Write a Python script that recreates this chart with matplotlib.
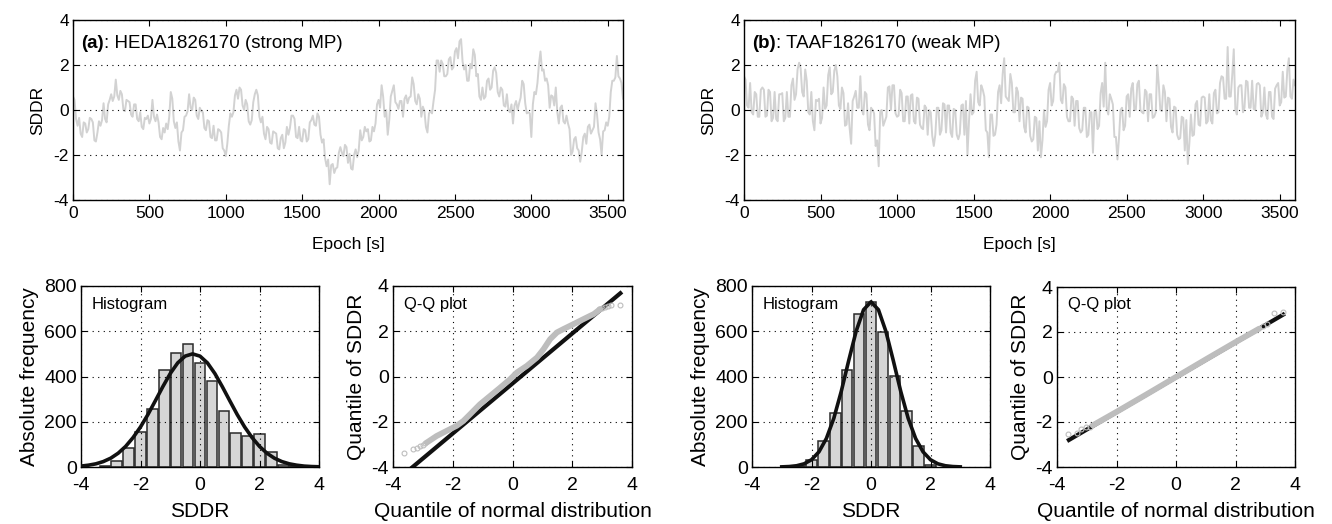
import numpy as np
import matplotlib
matplotlib.use("Agg")
import matplotlib.pyplot as plt

plt.rcParams['font.family'] = ['Liberation Sans', 'DejaVu Sans']
plt.rcParams['axes.unicode_minus'] = False

# ---- data ----
epoch = np.arange(0, 3601, 10)

sddr_a = [
    0.6, 0.45, -0.4, -0.7, -0.35, -1.05, -1.2, -0.55, -0.6, -1.0,
    -0.85, -0.35, -0.4, -0.55, -1.35, -1.4, -1.0, -0.5, -0.7, -0.45,
    0.3, -0.4, -0.55, 0.25, 0.45, 0.7, 0.4, 0.6, 1.35, 0.65,
    0.45, 0.85, 0.7, 0.0, -0.05, 0.45, 0.4, 0.35, -0.2, -0.3,
    0.25, 0.25, -0.4, -0.5, -0.1, -0.75, -0.85, -0.35, -0.4, -0.25,
    -0.6, -0.4, 0.45, -0.3, -0.5, -0.2, -0.55, -1.2, -1.3, -0.8,
    -1.0, -0.6, -0.85, -0.3, 0.8, 0.5, -0.5, -0.8, -0.55, -1.4,
    -1.8, -1.0, -0.9, -0.3, -0.25, -0.05, 0.7, 0.1, 0.0, 0.55,
    0.45, -0.25, -0.4, 0.1, -0.05, -0.1, -0.8, -0.9, -0.45, -0.5,
    -1.2, -1.25, -0.7, -1.35, -1.35, -0.85, -0.9, -1.0, -1.7, -1.8,
    -2.05, -1.5, -0.7, -0.15, -0.3, -0.1, 0.65, 0.9, 0.5, 1.0,
    0.9, 0.2, 0.0, 0.45, 0.25, -0.5, -0.65, -0.45, 0.35, 0.7,
    0.9, 0.65, -0.3, -0.55, -0.3, -1.05, -1.3, -0.75, -0.85, -1.45,
    -1.5, -0.95, -1.0, -1.05, -1.7, -1.75, -1.25, -1.1, -1.7, -1.45,
    -0.75, -1.1, -0.8, -0.25, -0.25, -0.4, -1.2, -1.25, -0.75, -1.35,
    -1.4, -0.85, -0.9, -1.4, -1.3, -0.55, -0.45, -0.25, -0.65, -0.7,
    -0.15, -0.3, -1.1, -1.45, -1.3, -2.15, -2.5, -2.2, -3.3, -2.45,
    -2.4, -2.8, -2.6, -2.55, -1.9, -1.65, -1.9, -2.05, -1.55, -1.65,
    -2.35, -1.95, -2.6, -2.65, -2.0, -1.75, -2.1, -1.8, -0.9, -1.35,
    -1.2, -0.75, -0.95, -0.85, -1.4, -1.35, -0.75, -0.95, -0.6, 0.25,
    0.45, 0.1, 1.1, 0.6, -0.3, 0.0, -1.1, -0.45, 0.6, 0.85,
    1.1, 0.35, 0.25, 0.05, 0.4, 0.4, -0.3, 0.5, 0.65, 0.3,
    0.55, 0.6, 1.45, 1.15, 0.4, 0.25, 0.7, 0.5, -0.3, 0.15,
    -0.05, -0.75, -1.0, -0.15, -0.05, -0.15, 0.4, 0.9, 2.2, 2.2,
    1.7, 2.2, 2.05, 1.5, 1.5, 1.6, 2.25, 2.35, 1.8, 1.9,
    2.6, 2.75, 2.3, 3.05, 3.15, 2.15, 1.8, 2.0, 1.3, 1.3,
    2.05, 1.85, 2.7, 2.45, 1.5, 1.6, 0.6, 0.45, 1.0, 0.5,
    0.6, 1.3, 1.4, 0.9, 1.0, 1.75, 1.9, 1.65, 0.8, 0.6,
    1.0, 0.9, 0.2, 0.15, 0.7, 0.0, -0.1, 0.25, -0.6, 0.2,
    0.4, 0.0, 0.3, 0.55, 1.3, 1.15, 0.3, -0.15, -0.1, -0.15,
    -1.2, 0.25, 0.8, 0.7, 1.2, 2.05, 2.6, 1.75, 1.8, 1.3,
    1.4, 1.1, 0.1, 0.65, 0.6, 0.2, 1.0, -0.1, -0.6, 0.1,
    0.2, -0.5, -0.6, -0.25, -0.6, -0.85, -2.0, -1.85, -1.3, -1.2,
    -1.7, -1.8, -2.3, -1.85, -1.2, -1.05, -1.5, -0.75, -0.65, -1.05,
    -0.9, -0.75, 0.3, -0.2, -1.0, -1.3, -2.0, -0.95, -0.9, -0.55,
    -0.7, -0.3, 0.8, 1.3, 1.3, 1.45, 2.4, 1.5, 1.4, 1.2,
    0.5]

sddr_b = [
    1.5, 1.35, 0.2, 0.1, 1.2, -0.1, -0.2, 0.8, 0.7, -0.3,
    -0.3, 0.9, 1.0, 0.9, -0.3, -0.25, 0.9, 0.8, -0.5, -0.35,
    0.8, -0.4, -0.5, 0.7, 0.7, 0.75, -0.5, -0.35, 0.8, -0.3,
    -0.3, 1.1, 1.4, 0.45, 0.7, 1.8, 2.1, 1.85, 0.8, 0.6,
    1.8, 1.3, -0.1, -0.2, 0.8, -0.5, -0.9, 0.45, 0.4, 0.5,
    -0.6, -0.35, 1.0, 0.05, 0.2, 1.55, 1.9, 0.7, 0.8, 1.75,
    2.0, 1.5, 0.2, 0.05, 1.0, 0.75, -0.7, -0.65, 0.3, -0.8,
    -1.5, 0.4, 0.6, 0.85, 0.1, 0.1, 1.5, 0.0, -0.2, 0.8,
    0.7, -0.65, -0.9, 0.1, 0.0, -0.15, -1.6, -1.35, -2.5, -0.05,
    0.0, -0.7, -0.5, -0.3, 1.0, 1.05, 0.0, 1.1, 1.1, -0.15,
    -0.3, -0.25, 0.9, 0.75, -0.5, -0.5, 0.6, 0.6, -0.6, 0.65,
    0.7, -0.5, -0.6, 0.55, 0.5, -0.65, -0.8, -0.85, 0.2, 0.1,
    -1.1, 0.0, -0.1, -1.15, -1.6, -1.1, 0.1, 0.1, -1.1, -0.9,
    0.3, 0.25, -1.0, 0.2, 0.2, -1.0, -1.2, 0.05, 0.0, -1.1,
    -1.3, -1.05, 0.2, 0.25, -1.1, 0.4, -2.0, -0.5, 0.7, -0.2,
    -0.1, 1.3, 1.7, 0.35, 0.2, 1.1, 0.9, 0.6, -0.9, -1.0,
    -2.1, -0.2, -0.2, -1.15, -1.1, -0.65, 0.8, 1.1, 0.3, 1.6,
    2.3, 0.6, 0.5, 0.4, 1.6, 1.2, -0.1, -0.1, 1.0, 0.8,
    -0.5, 0.55, 0.5, -0.75, -1.0, 0.15, 0.1, -1.15, -1.4, -1.3,
    -0.3, -0.35, -1.8, -0.5, -2.1, -1.35, 0.0, -0.75, -0.5, 0.9,
    1.2, 0.2, 0.4, 1.55, 1.7, 1.7, 2.1, 0.45, 0.3, 1.15,
    1.0, -0.3, -0.5, -0.5, 0.6, 0.5, -0.7, 0.4, 0.4, -0.8,
    -1.0, -0.9, 0.1, 0.1, -1.2, -1.1, -0.1, -0.1, -1.9, -0.05,
    0.0, -0.85, -0.7, 0.75, 1.2, 0.15, 2.1, 0.1, -0.2, 0.7,
    0.5, 0.25, -1.2, -1.2, -2.2, -1.25, 0.0, 0.1, -0.9, -0.7,
    0.6, 0.7, -0.3, 0.95, 1.2, 0.0, 0.0, 1.15, 1.3, 0.0,
    -0.1, -0.15, 0.9, 0.8, -0.5, 0.7, 0.7, -0.35, -0.3, -0.1,
    2.0, 1.15, 0.0, -0.05, 1.1, 0.8, -0.5, 0.55, 0.5, -0.75,
    -1.0, 0.15, 0.1, -1.1, -1.3, -1.25, -0.3, -0.35, -1.8, -0.45,
    -2.4, -1.45, -0.2, -1.15, -1.1, 0.25, 0.4, -0.65, -0.7, 0.55,
    0.6, 0.55, -0.6, -0.5, 0.7, -0.45, -0.6, 0.75, 0.9, -0.15,
    -0.1, 1.2, 1.5, 1.45, 0.5, 0.5, 2.8, 0.6, 0.6, 1.55,
    2.7, 0.05, -0.2, 1.0, 1.1, 1.1, -0.1, 0.1, 1.3, 1.25,
    0.1, 0.1, 1.3, 0.05, 0.0, 1.15, 1.2, 1.1, -0.3, -0.1,
    1.0, -0.2, -0.4, 0.8, 0.8, -0.3, -0.4, 0.95, 1.1, 1.2,
    0.2, 0.35, 1.7, 0.55, 0.6, 1.8, 2.3, 0.6, 0.5, 1.35,
    1.1]

# histograms (bin centres / counts)
hist_a_x = [-3.2, -2.8, -2.4, -2.0, -1.6, -1.2, -0.8, -0.4, 0.0, 0.4,
            0.8, 1.2, 1.6, 2.0, 2.4, 2.8, 3.2]
hist_a_n = [5, 26, 84, 155, 257, 428, 506, 543, 460, 381,
            249, 150, 136, 148, 68, 8, 3]
hist_b_x = [-2.4, -2.0, -1.6, -1.2, -0.8, -0.4, 0.0, 0.4, 0.8, 1.2, 1.6, 2.0]
hist_b_n = [3, 32, 116, 238, 429, 678, 731, 596, 403, 246, 91, 8]

# fitted normal curves
fit_a_x = [-4.0, -3.75, -3.5, -3.25, -3.0, -2.75, -2.5, -2.25, -2.0, -1.75,
           -1.5, -1.25, -1.0, -0.75, -0.5, -0.25, 0.0, 0.25, 0.5, 0.75,
           1.0, 1.25, 1.5, 1.75, 2.0, 2.25, 2.5, 2.75, 3.0, 3.25, 3.5, 3.75, 4.0]
fit_a_y = [4, 8, 14, 24, 39, 61, 91, 130, 177, 232,
           293, 355, 413, 460, 490, 500, 490, 460, 413, 355,
           293, 232, 177, 130, 91, 61, 39, 24, 14, 8, 4, 2, 1]
fit_b_x = [-3.0, -2.75, -2.5, -2.25, -2.0, -1.75, -1.5, -1.25, -1.0, -0.75,
           -0.5, -0.25, 0.0, 0.25, 0.5, 0.75, 1.0, 1.25, 1.5, 1.75,
           2.0, 2.25, 2.5, 2.75, 3.0]
fit_b_y = [0.6, 2, 5.5, 14, 32, 67, 126, 215, 334, 470,
           600, 695, 730, 695, 600, 470, 334, 215, 126, 67,
           32, 14, 5.5, 2, 0.6]

# Q-Q plots
qq_a_x = [-2.87, -2.54, -2.2, -1.87, -1.64, -1.42, -1.09, -0.75, -0.41, -0.08,
          0.15, 0.48, 0.82, 1.04, 1.26, 1.49, 1.71, 2.05, 2.38, 2.72, 2.94]
qq_a_y = [-2.92, -2.63, -2.4, -2.18, -1.96, -1.67, -1.23, -0.86, -0.49, -0.12,
          0.18, 0.47, 0.84, 1.21, 1.65, 1.95, 2.1, 2.32, 2.54, 2.76, 2.98]
qq_a_tx = [-3.64, -3.34, -3.2, -3.1, -3.0, -2.92, 2.9, 3.0, 3.1, 3.2, 3.3, 3.61]
qq_a_ty = [-3.39, -3.22, -3.14, -3.08, -3.02, -2.96, 2.97, 3.03, 3.08, 3.12, 3.15, 3.17]
qq_a_lx = [-3.64, 3.61]
qq_a_ly = [-4.33, 3.68]

qq_b_x = [-2.8, -2.0, -1.0, 0.0, 1.0, 2.0, 2.8]
qq_b_y = [-2.15, -1.55, -0.78, 0.0, 0.78, 1.55, 2.15]
qq_b_tx = [-3.63, -3.32, -3.18, -3.03, -2.9, 2.94, 3.05, 3.31, 3.61]
qq_b_ty = [-2.52, -2.49, -2.3, -2.24, -2.2, 2.27, 2.35, 2.86, 2.89]
qq_b_lx = [-3.6, 3.6]
qq_b_ly = [-2.8, 2.77]

# ---- drawing ----
W, H = 1332, 524
fig = plt.figure(figsize=(W / 100, H / 100), dpi=100)

def add_ax(l, t, r, b):
    return fig.add_axes([l / W, 1 - b / H, (r - l) / W, (b - t) / H])

dots = (0, (1, 4))
gray_line = '#d2d2d2'
gray_pt = '#bdbdbd'

def style(ax, fs, grid_axis, xpad):
    ax.tick_params(direction='in', top=True, right=True, length=4, width=0.8,
                   labelsize=fs, pad=3)
    ax.tick_params(axis='x', pad=xpad)
    for s in ax.spines.values():
        s.set_linewidth(1.0)
    ax.grid(True, axis=grid_axis, color='k', linestyle=dots, linewidth=0.8)
    ax.set_axisbelow(False)

def series_panel(ax, y, label, tag):
    ax.plot(epoch, y, color=gray_line, linewidth=1.4)
    ax.set_xlim(0, 3600)
    ax.set_ylim(-4, 4)
    ax.set_xticks(range(0, 3600, 500))
    ax.set_yticks([-4, -2, 0, 2, 4])
    style(ax, 12.5, 'y', 4)
    ax.set_xlabel('Epoch [s]', fontsize=12.5, labelpad=12)
    ax.set_ylabel('SDDR', fontsize=12.5, labelpad=6)
    t1 = ax.text(0.015, 0.87, tag, transform=ax.transAxes, fontsize=13.5,
                 fontweight='bold', va='center', ha='left')
    ax.annotate(label, xy=(1, 0.5), xycoords=t1, va='center', ha='left',
                fontsize=13.5)

def hist_panel(ax, cx, cn, fx, fy):
    ax.bar(cx, cn, width=0.35, color='#d6d6d6', edgecolor='#2b2b2b',
           linewidth=1.1, zorder=2)
    ax.plot(fx, fy, color='#111111', linewidth=2.6, zorder=3)
    ax.set_xlim(-4, 4)
    ax.set_ylim(0, 800)
    ax.set_xticks([-4, -2, 0, 2, 4])
    ax.set_yticks([0, 200, 400, 600, 800])
    style(ax, 14, 'both', 7)
    ax.set_xlabel('SDDR', fontsize=15, labelpad=6)
    ax.set_ylabel('Absolute frequency', fontsize=15, labelpad=4)
    ax.text(0.046, 0.9, 'Histogram', transform=ax.transAxes, fontsize=12,
            va='center', ha='left')

def qq_panel(ax, bx, by, tx, ty, lx, ly):
    ax.plot(lx, ly, color='#111111', linewidth=3.0, zorder=2)
    ax.plot(bx, by, color=gray_pt, linewidth=4.2, solid_capstyle='round', zorder=3)
    ax.plot(tx, ty, linestyle='none', marker='o', markersize=3.5,
            markerfacecolor='none', markeredgecolor=gray_pt, markeredgewidth=0.8,
            zorder=3)
    ax.set_xlim(-4, 4)
    ax.set_ylim(-4, 4)
    ax.set_xticks([-4, -2, 0, 2, 4])
    ax.set_yticks([-4, -2, 0, 2, 4])
    style(ax, 14, 'both', 7)
    ax.set_xlabel('Quantile of normal distribution', fontsize=15, labelpad=6)
    ax.set_ylabel('Quantile of SDDR', fontsize=15, labelpad=4)
    ax.text(0.045, 0.9, 'Q-Q plot', transform=ax.transAxes, fontsize=12,
            va='center', ha='left')

ax1 = add_ax(73, 20, 623, 200)
series_panel(ax1, sddr_a, ': HEDA1826170 (strong MP)', '(a)')
ax2 = add_ax(744, 20, 1295, 200)
series_panel(ax2, sddr_b, ': TAAF1826170 (weak MP)', '(b)')

ax3 = add_ax(81, 286, 319, 467)
hist_panel(ax3, hist_a_x, hist_a_n, fit_a_x, fit_a_y)
ax4 = add_ax(393, 286, 632, 467)
qq_panel(ax4, qq_a_x, qq_a_y, qq_a_tx, qq_a_ty, qq_a_lx, qq_a_ly)

ax5 = add_ax(752, 286, 990, 467)
hist_panel(ax5, hist_b_x, hist_b_n, fit_b_x, fit_b_y)
ax6 = add_ax(1057, 287, 1295, 467)
qq_panel(ax6, qq_b_x, qq_b_y, qq_b_tx, qq_b_ty, qq_b_lx, qq_b_ly)

fig.savefig('out.png', dpi=100)
